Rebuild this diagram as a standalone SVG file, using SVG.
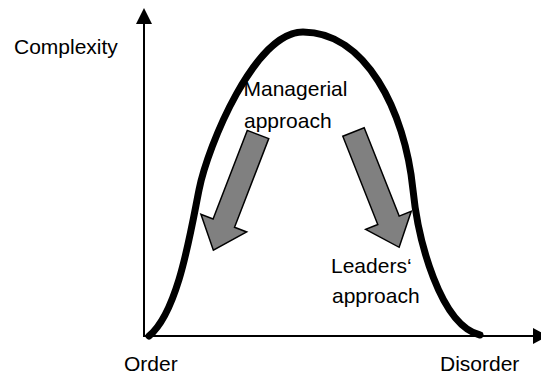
<svg xmlns="http://www.w3.org/2000/svg" width="541" height="374" viewBox="0 0 541 374">
<style>
  .lbl { font-family: "Liberation Sans", Arial, sans-serif; font-size: 21px; fill: #000; }
  .axis { stroke: #000; stroke-width: 2; fill: none; }
  .curve { stroke: #000; stroke-width: 7; fill: none; stroke-linecap: round; stroke-linejoin: round; }
  .blk { fill: #808080; stroke: #000; stroke-width: 1.5; stroke-linejoin: miter; }
</style>
<defs>
  <polygon id="blockArrow" points="0,-11.5 95,-11.5 95,-24.5 124,0 95,24.5 95,11.5 0,11.5"/>
</defs>
<rect width="541" height="374" fill="#fff"/>
<g id="connectors">
  <g id="y-axis">
    <line class="axis" x1="144" y1="337" x2="144" y2="22"/>
    <polygon points="144,8 136,24 152,24" fill="#000"/>
  </g>
  <g id="x-axis">
    <line class="axis" x1="143" y1="336" x2="534" y2="336"/>
    <polygon points="548,336 533,328 533,344" fill="#000"/>
  </g>
  <path id="curve" class="curve" d="M149,336 C178,312 190,235 199,190 C208,145 255,32 303,32 C365,32 405,110 413,190 C418,240 440,325 480,335"/>
</g>
<g id="managerial-arrow">
  <use href="#blockArrow" class="blk" transform="translate(258,134.5) rotate(111.1)"/>
</g>
<g id="leaders-arrow">
  <use href="#blockArrow" class="blk" transform="translate(353.5,132) rotate(68.4)"/>
</g>
<g id="label-complexity"><text class="lbl" x="14" y="54">Complexity</text></g>
<g id="label-managerial">
  <text class="lbl" x="243.5" y="96">Managerial</text>
  <text class="lbl" x="244" y="128">approach</text>
</g>
<g id="label-leaders">
  <text class="lbl" x="331" y="273">Leaders‘</text>
  <text class="lbl" x="332" y="303">approach</text>
</g>
<g id="label-order"><text class="lbl" x="124" y="371">Order</text></g>
<g id="label-disorder"><text class="lbl" x="440" y="371">Disorder</text></g>
</svg>
